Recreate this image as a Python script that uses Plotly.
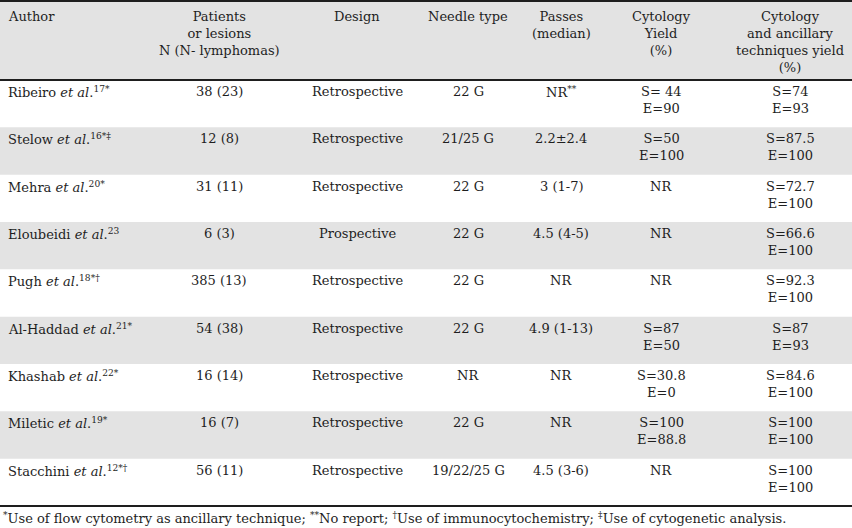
import plotly.graph_objects as go

# Datos de la tabla
headers = [
    "Author",
    "Patients<br>or lesions<br>N (N- lymphomas)",
    "Design",
    "Needle type",
    "Passes<br>(median)",
    "Cytology<br>Yield<br>(%)",
    "Cytology<br>and ancillary<br>techniques yield<br>(%)",
]

authors = [
    "Ribeiro <i>et al</i>.<sup>17*</sup>",
    "Stelow <i>et al</i>.<sup>16*‡</sup>",
    "Mehra <i>et al</i>.<sup>20*</sup>",
    "Eloubeidi <i>et al</i>.<sup>23</sup>",
    "Pugh <i>et al</i>.<sup>18*†</sup>",
    "Al-Haddad <i>et al</i>.<sup>21*</sup>",
    "Khashab <i>et al</i>.<sup>22*</sup>",
    "Miletic <i>et al</i>.<sup>19*</sup>",
    "Stacchini <i>et al</i>.<sup>12*†</sup>",
]
patients = ["38 (23)", "12 (8)", "31 (11)", "6 (3)", "385 (13)", "54 (38)", "16 (14)", "16 (7)", "56 (11)"]
design = ["Retrospective", "Retrospective", "Retrospective", "Prospective", "Retrospective",
          "Retrospective", "Retrospective", "Retrospective", "Retrospective"]
needle = ["22 G", "21/25 G", "22 G", "22 G", "22 G", "22 G", "NR", "22 G", "19/22/25 G"]
passes = ["NR<sup>**</sup>", "2.2±2.4", "3 (1-7)", "4.5 (4-5)", "NR", "4.9 (1-13)", "NR", "NR", "4.5 (3-6)"]
cyto_yield = ["S= 44<br>E=90", "S=50<br>E=100", "NR", "NR", "NR",
              "S=87<br>E=50", "S=30.8<br>E=0", "S=100<br>E=88.8", "NR"]
ancillary_yield = ["S=74<br>E=93", "S=87.5<br>E=100", "S=72.7<br>E=100", "S=66.6<br>E=100",
                   "S=92.3<br>E=100", "S=87<br>E=93", "S=84.6<br>E=100", "S=100<br>E=100",
                   "S=100<br>E=100"]

footnote = ("<sup>*</sup>Use of flow cytometry as ancillary technique; <sup>**</sup>No report; "
            "<sup>†</sup>Use of immunocytochemistry; <sup>‡</sup>Use of cytogenetic analysis.")

columns = [authors, patients, design, needle, passes, cyto_yield, ancillary_yield]

# Geometría (px)
W, H = 852, 528
HEAD_TOP, HEAD_BOT, ROW_H = 2, 80, 47.33
col_x = [6, 219, 357, 468, 561, 661, 790]   # borde izq. para Author, centro para el resto
GRAY = "#e3e3e3"
INK = "#1e1e1e"
FONT = dict(family="DejaVu Serif", size=13, color=INK)


def px_to_y(p):
    # coordenada y (en filas) para un píxel vertical
    return (p - HEAD_BOT) / ROW_H - 0.5


n_rows = len(authors)
fig = go.Figure()

# Sombreado: cabecera y filas alternas
fig.add_shape(type="rect", xref="paper", yref="y", x0=0, x1=1,
              y0=px_to_y(HEAD_TOP), y1=-0.5, fillcolor=GRAY, line_width=0, layer="below")
for i in range(n_rows):
    if i % 2 == 1:
        fig.add_shape(type="rect", xref="paper", yref="y", x0=0, x1=1,
                      y0=i - 0.5, y1=i + 0.5, fillcolor=GRAY, line_width=0, layer="below")

# Líneas horizontales
for y in [px_to_y(1), -0.5, n_rows - 0.5]:
    fig.add_shape(type="line", xref="paper", yref="y", x0=0, x1=1, y0=y, y1=y,
                  line=dict(color=INK, width=2))

# Texto de cabecera
for j, h in enumerate(headers):
    fig.add_annotation(text=h, xref="paper", yref="y", x=col_x[j] / W,
                       y=px_to_y(HEAD_TOP + 5), xanchor="left" if j == 0 else "center",
                       yanchor="top", align="left" if j == 0 else "center",
                       showarrow=False, font=FONT)

# Texto de celdas
for j, col in enumerate(columns):
    for i, val in enumerate(col):
        fig.add_annotation(text=val, xref="paper", yref="y", x=col_x[j] / W,
                           y=i - 0.5 + 2 / ROW_H, xanchor="left" if j == 0 else "center",
                           yanchor="top", align="left" if j == 0 else "center",
                           showarrow=False, font=FONT)

fig.add_annotation(text=footnote, xref="paper", yref="y", x=1 / W, y=px_to_y(518),
                   xanchor="left", yanchor="middle", showarrow=False, font=FONT)

fig.update_xaxes(visible=False, range=[0, 1])
fig.update_yaxes(visible=False, range=[px_to_y(H), px_to_y(0)])
fig.update_layout(width=W, height=H, margin=dict(l=0, r=0, t=0, b=0),
                  paper_bgcolor="white", plot_bgcolor="white", showlegend=False)

fig.write_html("out.html", config={"displayModeBar": False},
               post_script="document.body.style.margin='0px';")
